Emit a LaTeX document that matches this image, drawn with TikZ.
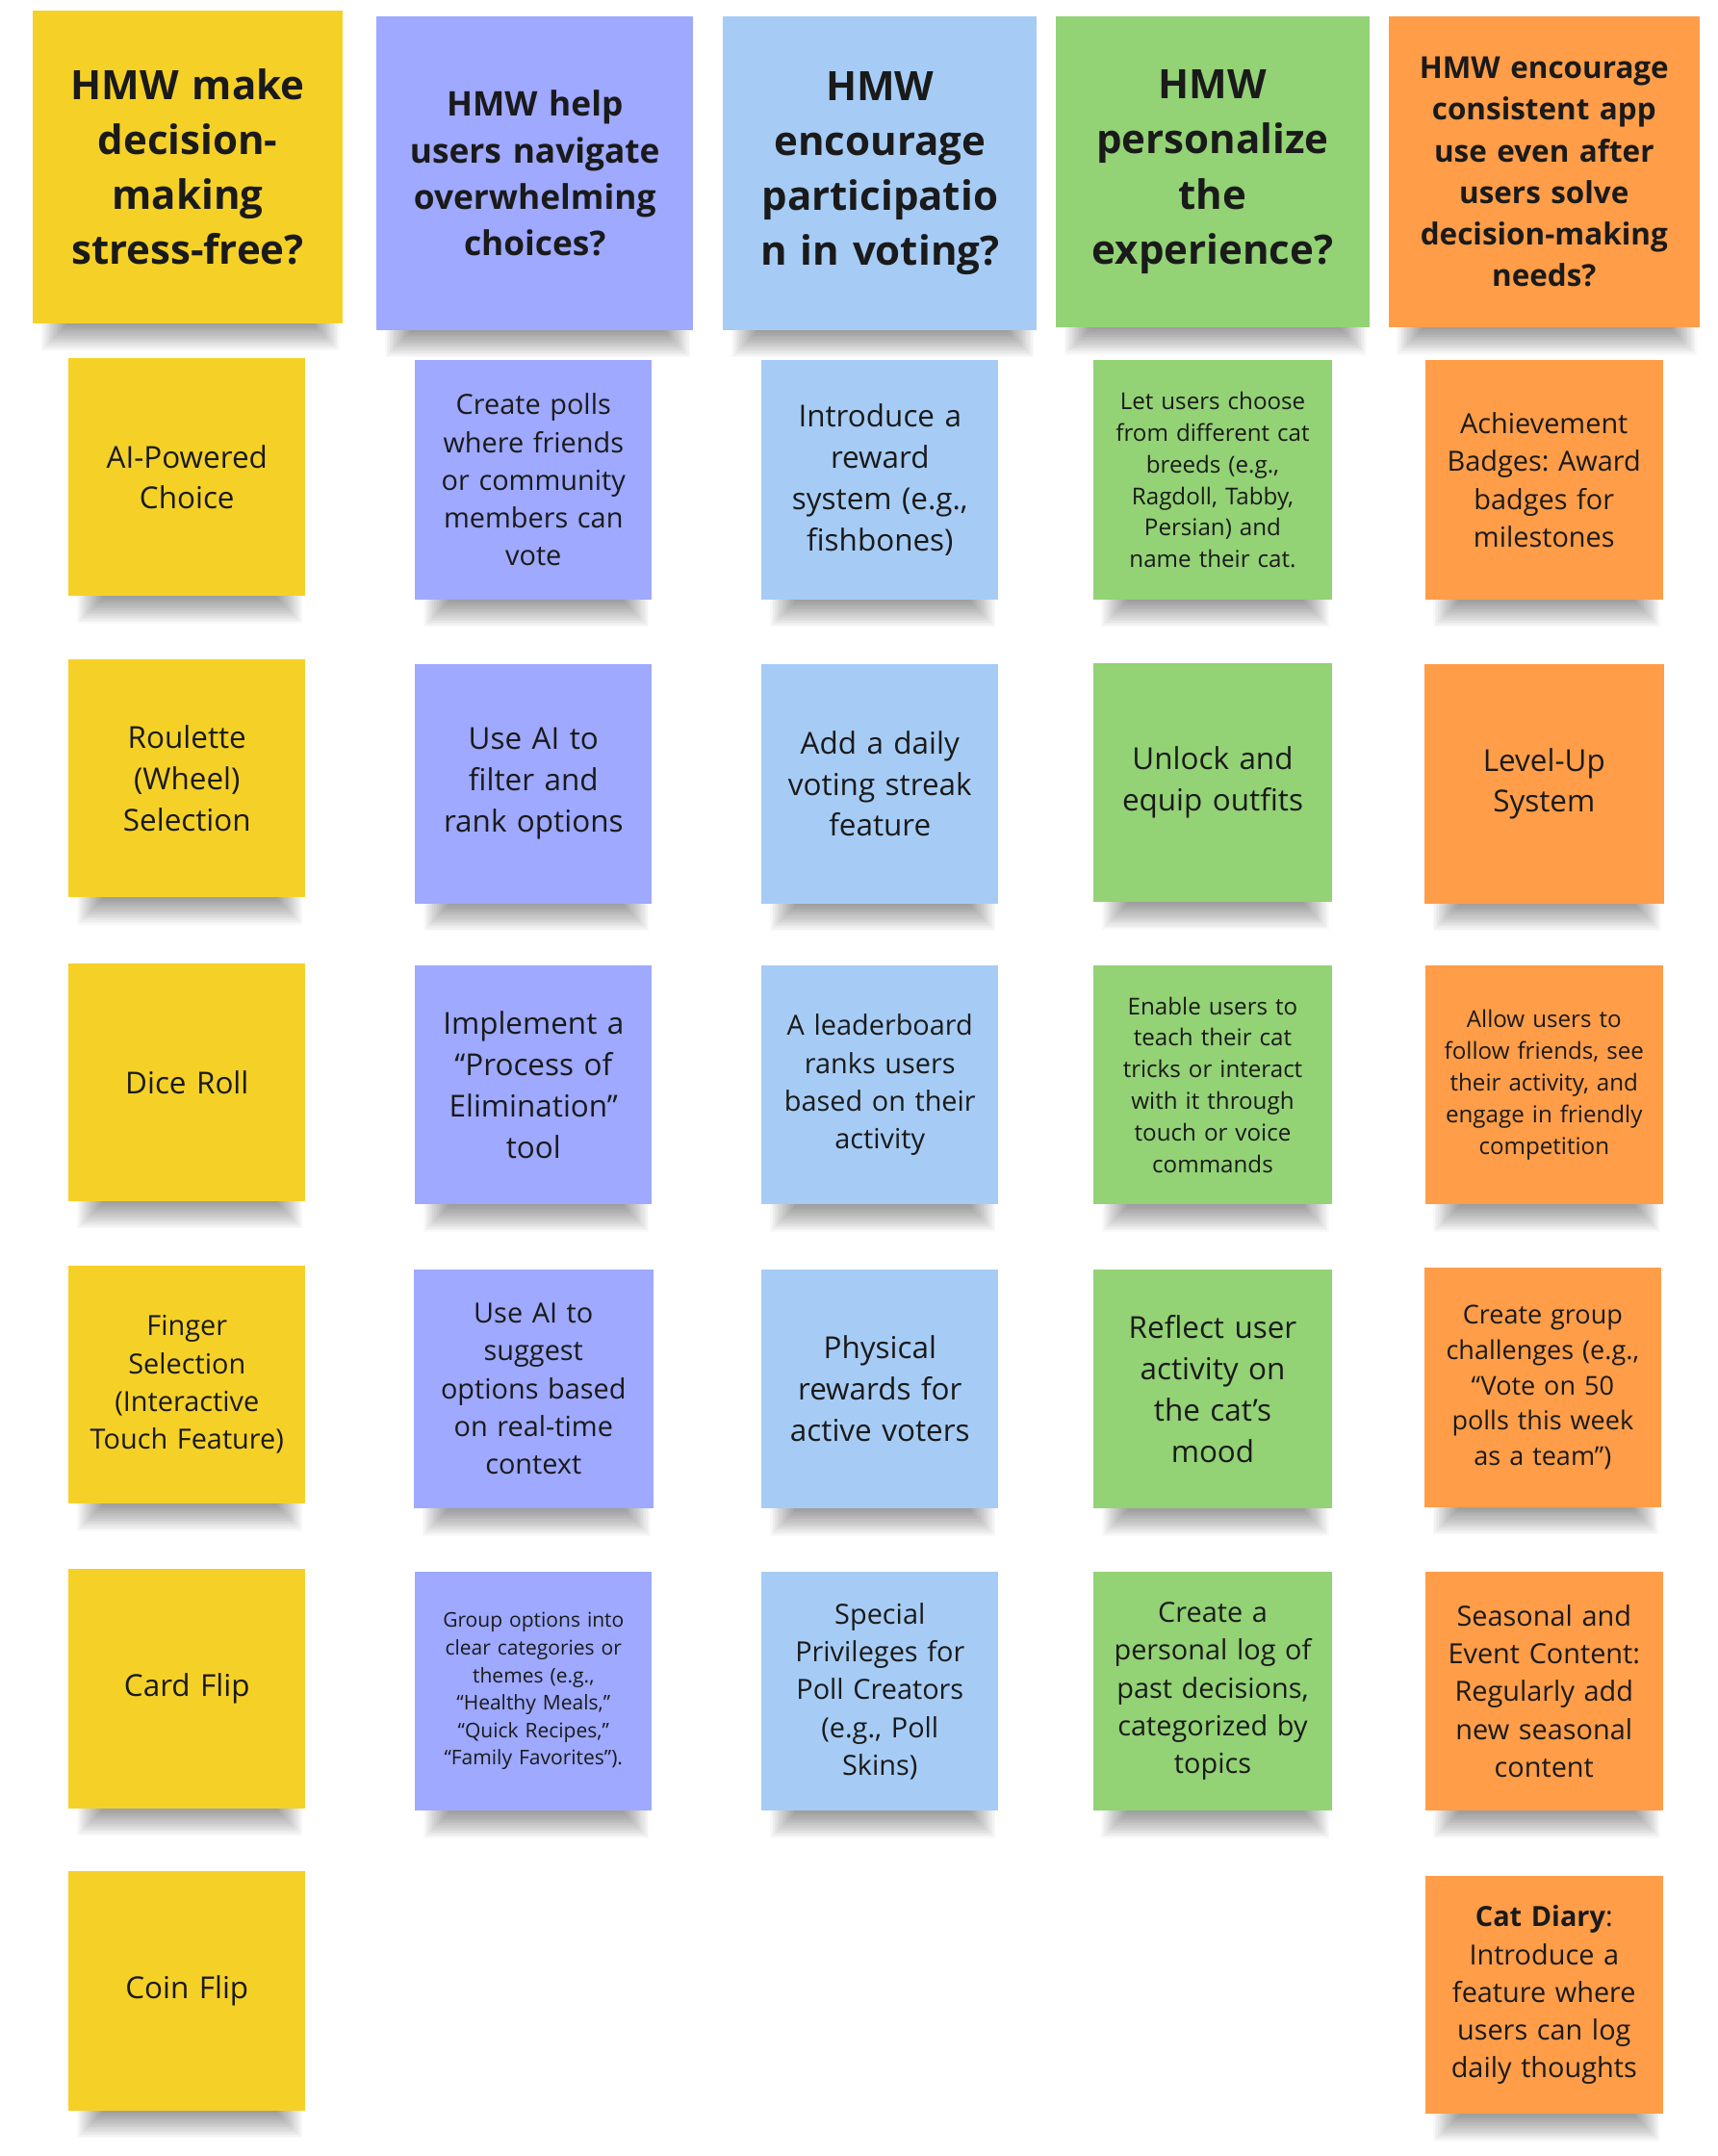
\documentclass[tikz,border=0pt]{standalone}
\usepackage{fontspec}
\setmainfont{Open Sans}
\frenchspacing
\definecolor{stYellow}{HTML}{F5D128}
\definecolor{stViolet}{HTML}{9EA9FF}
\definecolor{stBlue}{HTML}{A6CCF5}
\definecolor{stGreen}{HTML}{93D275}
\definecolor{stOrange}{HTML}{FF9D48}
\definecolor{ink}{HTML}{1A1A1A}
\tikzset{
  shadowlayer/.style={fill=black, fill opacity=0.022},
  card/.style={inner sep=0pt, align=center, text=ink, text width=#1},
  card/.default=80pt,
  fL/.style={font=\fontsize{11}{15}\selectfont},
  fM/.style={font=\fontsize{10.1}{13.75}\selectfont},
  fMs/.style={font=\fontsize{9.45}{12.85}\selectfont},
  fS/.style={font=\fontsize{8.45}{11.5}\selectfont},
  fSs/.style={font=\fontsize{7.35}{10}\selectfont},
  fH/.style={font=\bfseries\fontsize{14.7}{20}\selectfont},
  fHm/.style={font=\bfseries\fontsize{12.35}{16.85}\selectfont},
  fHs/.style={font=\bfseries\fontsize{11}{15.1}\selectfont},
  yel/.style={fill=stYellow},
  vio/.style={fill=stViolet},
  blu/.style={fill=stBlue},
  grn/.style={fill=stGreen},
  ora/.style={fill=stOrange},
}
% name, cx, cy, w, h, style, text
\newcommand\sticky[7]{%
  \foreach \k in {0,...,17}{%
    \path[shadowlayer] (#2-#4/2+6+1.1*\k, #3+#5/2-4) rectangle (#2+#4/2-2-1.1*\k, #3+#5/2+20-1.1*\k);
  }%
  \node[card=#4*0.5pt-6pt, minimum width=#4*0.5pt, minimum height=#5*0.5pt, #6] (#1) at (#2,#3) {#7};%
}
\begin{document}
\begin{tikzpicture}[x=0.5pt, y=-0.5pt]
\useasboundingbox[fill=white] (0,0) rectangle (1249,1568);
% headers
\sticky{h1}{136.5}{121.5}{225}{227}{yel,fH}{HMW make\\decision-\\making\\stress-free?}
\sticky{h2}{389}{126}{230}{228}{vio,fHm}{HMW help\\users navigate\\overwhelming\\choices?}
\sticky{h3}{640}{126}{228}{228}{blu,fH}{HMW\\encourage\\participatio\\n in voting?}
\sticky{h4}{882}{125}{228}{226}{grn,fH}{HMW\\personalize\\the\\experience?}
\sticky{h5}{1123}{125}{226}{226}{ora,fHs}{HMW encourage\\consistent app\\use even after\\users solve\\decision-making\\needs?}
% column 1
\sticky{a1}{136}{347}{172}{173}{yel,fL}{AI-Powered\\Choice}
\sticky{a2}{136}{566}{172}{173}{yel,fL}{Roulette\\(Wheel)\\Selection}
\sticky{a3}{136}{787}{172}{173}{yel,fL}{Dice Roll}
\sticky{a4}{136}{1007}{172}{173}{yel,fM}{Finger\\Selection\\(Interactive\\Touch Feature)}
\sticky{a5}{136}{1228}{172}{174}{yel,fL}{Card Flip}
\sticky{a6}{136}{1448}{172}{174}{yel,fL}{Coin Flip}
% column 2
\sticky{b1}{388}{349}{172}{174}{vio,fM}{Create polls\\where friends\\or community\\members can\\vote}
\sticky{b2}{388}{570}{172}{174}{vio,fL}{Use AI to\\filter and\\rank options}
\sticky{b3}{388}{789}{172}{174}{vio,fL}{Implement a\\“Process of\\Elimination”\\tool}
\sticky{b4}{388}{1010}{174}{174}{vio,fM}{Use AI to\\suggest\\options based\\on real-time\\context}
\sticky{b5}{388}{1230}{172}{174}{vio,fSs}{Group options into\\clear categories or\\themes (e.g.,\\“Healthy Meals,”\\“Quick Recipes,”\\“Family Favorites”).}
% column 3
\sticky{c1}{640}{349}{172}{174}{blu,fL}{Introduce a\\reward\\system (e.g.,\\fishbones)}
\sticky{c2}{640}{570}{172}{174}{blu,fL}{Add a daily\\voting streak\\feature}
\sticky{c3}{640}{789}{172}{174}{blu,fM}{A leaderboard\\ranks users\\based on their\\activity}
\sticky{c4}{640}{1010}{172}{174}{blu,fL}{Physical\\rewards for\\active voters}
\sticky{c5}{640}{1230}{172}{174}{blu,fM}{Special\\Privileges for\\Poll Creators\\(e.g., Poll\\Skins)}
% column 4
\sticky{d1}{882}{349}{174}{174}{grn,fS}{Let users choose\\from different cat\\breeds (e.g.,\\Ragdoll, Tabby,\\Persian) and\\name their cat.}
\sticky{d2}{882}{569}{173}{174}{grn,fL}{Unlock and\\equip outfits}
\sticky{d3}{882}{789}{173}{174}{grn,fS}{Enable users to\\teach their cat\\tricks or interact\\with it through\\touch or voice\\commands}
\sticky{d4}{882}{1010}{173}{174}{grn,fL}{Reflect user\\activity on\\the cat’s\\mood}
\sticky{d5}{882}{1230}{174}{174}{grn,fM}{Create a\\personal log of\\past decisions,\\categorized by\\topics}
% column 5
\sticky{e1}{1123}{349}{173}{174}{ora,fM}{Achievement\\Badges: Award\\badges for\\milestones}
\sticky{e2}{1123}{570}{174}{174}{ora,fL}{Level-Up\\System}
\sticky{e3}{1123}{789}{173}{174}{ora,fS}{Allow users to\\follow friends, see\\their activity, and\\engage in friendly\\competition}
\sticky{e4}{1122}{1009}{172}{174}{ora,fMs}{Create group\\challenges (e.g.,\\“Vote on 50\\polls this week\\as a team”)}
\sticky{e5}{1123}{1230}{173}{174}{ora,fM}{Seasonal and\\Event Content:\\Regularly add\\new seasonal\\content}
\sticky{e6}{1123}{1451}{173}{173}{ora,fM}{\textbf{Cat Diary}:\\Introduce a\\feature where\\users can log\\daily thoughts}
\end{tikzpicture}
\end{document}
